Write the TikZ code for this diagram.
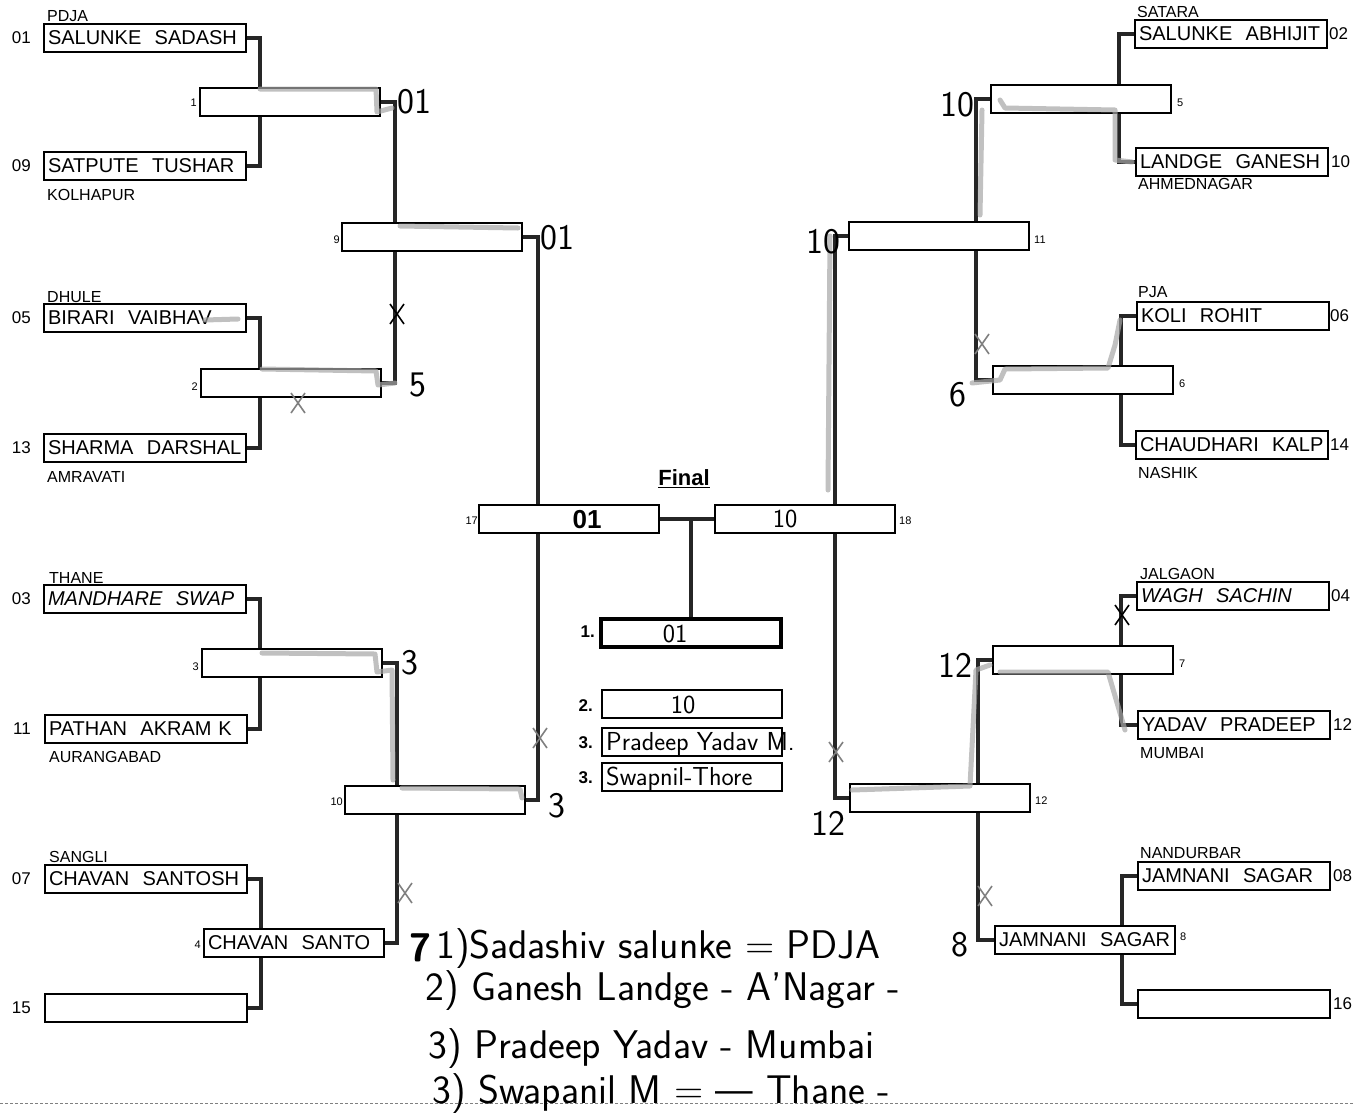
\documentclass[tikz,border=0pt]{standalone}
\usepackage{fontspec}
\setmainfont{Liberation Sans}
\usetikzlibrary{backgrounds}

\begin{document}
\begin{tikzpicture}[x=1pt,y=-1pt,
    player/.style={draw,line width=1.8pt,fill=white,minimum height=28pt,
      text width=194pt,inner xsep=4pt,inner ysep=0pt,align=left,
      font=\fontsize{20}{20}\selectfont},
    rplayer/.style={player,text width=184pt},
    match/.style={player,text width=172pt},
    seed/.style={font=\fontsize{17}{17}\selectfont,inner sep=0pt},
    city/.style={font=\fontsize{16}{16}\selectfont,inner sep=0pt,anchor=west},
    num/.style={font=\fontsize{11}{11}\selectfont,inner sep=0pt},
    place/.style={font=\bfseries\fontsize{17}{17}\selectfont,inner sep=0pt,anchor=east},
    wire/.style={line width=3.4pt,black!85},
    hand/.style={font=\sffamily\fontsize{36}{36}\selectfont,inner sep=0pt},
    inbox/.style={font=\sffamily\fontsize{26}{26}\selectfont,inner sep=0pt},
    note/.style={font=\sffamily\fontsize{40}{40}\selectfont,inner sep=0pt,anchor=base west},
    marker/.style={line width=5pt,gray!70,opacity=.7,line cap=round,line join=round}]
  \useasboundingbox (0,0) rectangle (1354,1119);

  \node[player] (p01) at (145,38) {SALUNKE\ \ SADASH};
  \node[player] (p09) at (145,166) {SATPUTE\ \ TUSHAR};
  \node[player] (p05) at (145,318) {BIRARI\ \ VAIBHAV};
  \node[player] (p13) at (145,448) {SHARMA\ \ DARSHAL};
  \node[player,font=\itshape\fontsize{20}{20}\selectfont] (p03) at (145,599) {MANDHARE\ \ SWAP};
  \node[player] (p11) at (146,729) {PATHAN\ \ AKRAM K};
  \node[player] (p07) at (146,879) {CHAVAN\ \ SANTOSH};
  \node[player] (p15) at (146,1008) {};

  \node[rplayer] (p02) at (1231,34) {SALUNKE\ \ ABHIJIT};
  \node[rplayer] (p10) at (1232,162) {LANDGE\ \ GANESH};
  \node[rplayer] (p06) at (1233,316) {KOLI\ \ ROHIT};
  \node[rplayer] (p14) at (1232,445) {CHAUDHARI\ \ KALP};
  \node[rplayer,font=\itshape\fontsize{20}{20}\selectfont] (p04) at (1233,596) {WAGH\ \ SACHIN};
  \node[rplayer] (p12) at (1234,725) {YADAV\ \ PRADEEP};
  \node[rplayer] (p08) at (1234,876) {JAMNANI\ \ SAGAR};
  \node[rplayer] (p16) at (1234,1004) {};

  \node[match] (m1) at (290,102) {};
  \node[match] (m2) at (291,383) {};
  \node[match] (m3) at (292,663) {};
  \node[match] (m4) at (294,943) {CHAVAN\ \ SANTO};
  \node[match] (m9) at (432,237) {};
  \node[match] (m10) at (435,800) {};
  \node[match] (f17) at (569,519) {};
  \node[match] (m5) at (1081,99) {};
  \node[match] (m6) at (1083,380) {};
  \node[match] (m7) at (1083,660) {};
  \node[match] (m8) at (1085,940) {JAMNANI\ \ SAGAR};
  \node[match] (m11) at (939,236) {};
  \node[match] (m12) at (940,798) {};
  \node[match] (f18) at (805,519) {};

  \node[seed,anchor=east] (s01) at (31,38) {01};
  \node[seed,anchor=east] (s09) at (31,166) {09};
  \node[seed,anchor=east] (s05) at (31,318) {05};
  \node[seed,anchor=east] (s13) at (31,448) {13};
  \node[seed,anchor=east] (s03) at (31,599) {03};
  \node[seed,anchor=east] (s11) at (31,729) {11};
  \node[seed,anchor=east] (s07) at (31,879) {07};
  \node[seed,anchor=east] (s15) at (31,1008) {15};
  \node[seed,anchor=west] (s02) at (1329,34) {02};
  \node[seed,anchor=west] (s10) at (1331,162) {10};
  \node[seed,anchor=west] (s06) at (1330,316) {06};
  \node[seed,anchor=west] (s14) at (1330,445) {14};
  \node[seed,anchor=west] (s04) at (1331,596) {04};
  \node[seed,anchor=west] (s12) at (1333,725) {12};
  \node[seed,anchor=west] (s08) at (1333,876) {08};
  \node[seed,anchor=west] (s16) at (1333,1004) {16};

  \node[city] (c01) at (47,16) {PDJA};
  \node[city] (c09) at (47,195) {KOLHAPUR};
  \node[city] (c05) at (47,297) {DHULE};
  \node[city] (c13) at (47,477) {AMRAVATI};
  \node[city] (c03) at (49,578) {THANE};
  \node[city] (c11) at (49,757) {AURANGABAD};
  \node[city] (c07) at (49,857) {SANGLI};
  \node[city] (c02) at (1137,12) {SATARA};
  \node[city] (c10) at (1138,184) {AHMEDNAGAR};
  \node[city] (c06) at (1138,292) {PJA};
  \node[city] (c14) at (1138,473) {NASHIK};
  \node[city] (c04) at (1140,574) {JALGAON};
  \node[city] (c12) at (1140,753) {MUMBAI};
  \node[city] (c08) at (1140,853) {NANDURBAR};

  \node[num,anchor=east] (n1) at (197,103) {1};
  \node[num,anchor=east] (n2) at (198,387) {2};
  \node[num,anchor=east] (n3) at (199,667) {3};
  \node[num,anchor=east] (n4) at (201,945) {4};
  \node[num,anchor=east] (n9) at (340,240) {9};
  \node[num,anchor=east] (n10) at (343,802) {10};
  \node[num,anchor=east] (n17) at (478,521) {17};
  \node[num,anchor=west] (n5) at (1177,103) {5};
  \node[num,anchor=west] (n6) at (1179,384) {6};
  \node[num,anchor=west] (n7) at (1179,664) {7};
  \node[num,anchor=west] (n8) at (1180,937) {8};
  \node[num,anchor=west] (n11) at (1034,240) {11};
  \node[num,anchor=west] (n12) at (1035,801) {12};
  \node[num,anchor=west] (n18) at (899,521) {18};

  \node[font=\bfseries\fontsize{22}{22}\selectfont] (final) at (684,479) {\underline{Final}};
  \node[match,line width=3.4pt] (w1) at (691,633) {};
  \node[match] (w2) at (692,704) {};
  \node[match] (w3) at (692,742) {};
  \node[match] (w4) at (692,777) {};
  \node[place] (r1) at (595,632) {1.};
  \node[place] (r2) at (593,706) {2.};
  \node[place] (r3) at (593,743) {3.};
  \node[place] (r4) at (593,778) {3.};

  \begin{scope}[on background layer]
    \foreach \a/\b in {p01/p09,p05/p13,p03/p11,p07/p15}
      \draw[wire] (\a.east) -- ++(13,0) |- (\b.east);
    \foreach \a/\b in {p02/p10,p06/p14,p04/p12,p08/p16}
      \draw[wire] (\a.west) -- ++(-15,0) |- (\b.west);
    \foreach \a/\b in {m1/m2,m3/m4}
      \draw[wire] (\a.east) -- ++(14,0) |- (\b.east);
    \foreach \a/\b in {m5/m6,m7/m8}
      \draw[wire] (\a.west) -- ++(-14,0) |- (\b.west);
    \draw[wire] (m9.east) -- ++(15,0) |- (m10.east);
    \draw[wire] (m11.west) -- ++(-13,0) |- (m12.west);
    \draw[wire] (f17.east) -- (f18.west);
    \draw[wire] (w1.north) -- (w1.north |- f17.east);
  \end{scope}

  \draw[marker] (260,89) -- (376,89) -- (377,112) -- (392,108);
  \draw[marker] (400,226) -- (518,228);
  \draw[marker] (205,320) -- (238,319);
  \draw[marker] (262,369) -- (376,371) -- (378,385) -- (395,383);
  \draw[marker] (262,653) -- (375,654) -- (377,672) -- (392,670) -- (393,780);
  \draw[marker] (402,788) -- (520,789) -- (522,798);
  \draw[marker] (1000,100) -- (1005,108) -- (1115,110) -- (1115,160) -- (1132,162);
  \draw[marker] (982,110) -- (980,215);
  \draw[marker] (830,236) -- (828,490);
  \draw[marker] (972,383) -- (1000,380) -- (1005,369) -- (1108,368) -- (1115,345) -- (1120,320);
  \draw[marker] (1000,672) -- (1108,672) -- (1125,730);
  \draw[marker] (852,790) -- (970,786) -- (976,670) -- (990,665);

  \foreach \cx/\cy/\cc in {397/314/black,298/403/gray,540/738/gray,405/893/gray,
      982/344/gray,1122/615/black,985/896/gray,836/752/gray}
    \draw[line width=1.6pt,\cc] (\cx-7,\cy-10) -- (\cx+7,\cy+10) (\cx+7,\cy-10) -- (\cx-7,\cy+10);

  \node[hand] (h1) at (414,102) {01};
  \node[hand] (h9) at (557,238) {01};
  \node[hand] (h2) at (418,385) {5};
  \node[hand] (h3) at (410,663) {3};
  \node[hand] (h10) at (557,806) {3};
  \node[hand,font=\sffamily\bfseries\fontsize{40}{40}\selectfont] (h4) at (420,948) {7};
  \node[hand] (h5) at (957,105) {10};
  \node[hand] (h11) at (823,242) {10};
  \node[hand] (h6) at (958,395) {6};
  \node[hand] (h7) at (955,665) {12};
  \node[hand] (h12) at (828,823) {12};
  \node[hand] (h8) at (960,945) {8};

  \node[inbox,font=\bfseries\fontsize{26}{26}\selectfont] (t17) at (587,520) {01};
  \node[inbox] (t18) at (785,519) {10};
  \node[inbox] (t1) at (675,634) {01};
  \node[inbox] (t2) at (683,705) {10};
  \node[inbox,anchor=west] (t3) at (606,744) {Pradeep Yadav M.};
  \node[inbox,anchor=west] (t4) at (606,779) {Swapnil-Thore};

  \draw[densely dashed,gray,line width=.8pt] (0,1103) -- (1354,1103);
  \node[note] (l1) at (436,958) {1)Sadashiv salunke = PDJA};
  \node[note] (l2) at (425,1000) {2) Ganesh Landge - A'Nagar -};
  \node[note] (l3) at (428,1058) {3) Pradeep Yadav - Mumbai};
  \node[note] (l4) at (432,1103) {3) Swapanil M = --- Thane -};
\end{tikzpicture}
\end{document}
